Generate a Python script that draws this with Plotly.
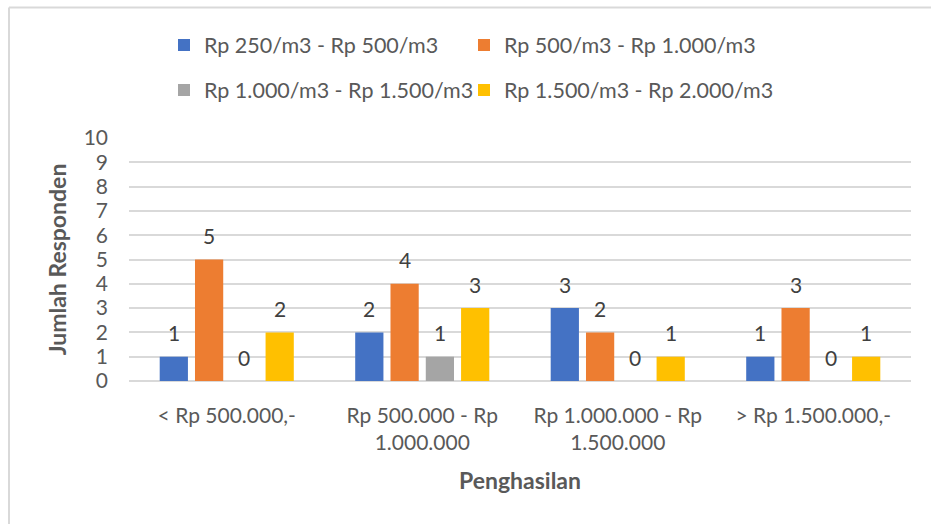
import plotly.graph_objects as go

# Income brackets (x categories)
categories = ["< Rp 500.000,-", "Rp 500.000 - Rp<br>1.000.000",
              "Rp 1.000.000 - Rp<br>1.500.000", "> Rp 1.500.000,-"]

# Respondent counts per water price range
series_names = ["Rp 250/m3 - Rp 500/m3", "Rp 500/m3 - Rp 1.000/m3",
                "Rp 1.000/m3 - Rp 1.500/m3", "Rp 1.500/m3 - Rp 2.000/m3"]
price_250_500 = [1, 2, 3, 1]
price_500_1000 = [5, 4, 2, 3]
price_1000_1500 = [0, 1, 0, 0]
price_1500_2000 = [2, 3, 1, 1]
series_values = [price_250_500, price_500_1000, price_1000_1500, price_1500_2000]

y_ticks = list(range(0, 11))

colors = ["#4472C4", "#ED7D31", "#A5A5A5", "#FFC000"]
text_color = "#595959"
grid_color = "#D9D9D9"
font_family = "Lato, 'Open Sans', sans-serif"

W, H = 931, 524
margin = dict(l=129, r=20, t=138, b=143)
plot_w = W - margin["l"] - margin["r"]
plot_h = H - margin["t"] - margin["b"]
bargap, bargroupgap = 0.278, 0.2

# Legend laid out as a 2x2 grid: one legend box per entry
legend_ids = ["legend", "legend2", "legend3", "legend4"]
legend_pos = [(164, 45), (464, 45), (164, 90), (464, 90)]

fig = go.Figure()
for i, (name, vals) in enumerate(zip(series_names, series_values)):
    fig.add_trace(go.Bar(
        x=categories, y=vals, name=name,
        marker=dict(color=colors[i], line=dict(width=0)),
        legend=legend_ids[i],
    ))

# Value labels above each bar, shifted to the bar's slot inside its group
cat_px = plot_w / len(categories)
slot_px = cat_px * (1 - bargap) / len(series_values)
for i, vals in enumerate(series_values):
    for cat, v in zip(categories, vals):
        fig.add_annotation(
            x=cat, y=v, text=str(v), showarrow=False,
            xshift=(i - (len(series_values) - 1) / 2) * slot_px,
            yshift=24, font=dict(size=21, color="#404040", family=font_family),
        )

# Light frame lines along the left and top edges of the chart
def px_to_paper_x(px):
    return (px - margin["l"]) / plot_w

def px_to_paper_y(py):
    return (H - margin["b"] - py) / plot_h

fig.add_shape(type="line", xref="paper", yref="paper",
              x0=px_to_paper_x(9), x1=px_to_paper_x(9),
              y0=px_to_paper_y(7.5), y1=px_to_paper_y(H + 5),
              line=dict(color=grid_color, width=2))
fig.add_shape(type="line", xref="paper", yref="paper",
              x0=px_to_paper_x(9), x1=px_to_paper_x(W + 5),
              y0=px_to_paper_y(7.5), y1=px_to_paper_y(7.5),
              line=dict(color=grid_color, width=2))

legend_common = dict(
    orientation="h", xanchor="left", yanchor="middle",
    font=dict(size=21.5, color=text_color, family=font_family),
    itemclick=False, bgcolor="rgba(0,0,0,0)",
    xref="container", yref="container",
)
legend_layout = {
    lid: dict(**legend_common, x=px / W, y=1 - py / H)
    for lid, (px, py) in zip(legend_ids, legend_pos)
}

fig.update_layout(
    width=W, height=H, margin=margin,
    paper_bgcolor="white", plot_bgcolor="white",
    barmode="group", bargap=bargap, bargroupgap=bargroupgap,
    font=dict(family=font_family, color=text_color, size=21),
    showlegend=True,
    **legend_layout,
    xaxis=dict(
        showgrid=False, showline=False, zeroline=False,
        tickfont=dict(size=21, color=text_color),
        ticks="", ticklabelstandoff=20,
        title=dict(text="<b>Penghasilan</b>", standoff=19,
                   font=dict(size=23, color=text_color)),
        automargin=False,
    ),
    yaxis=dict(
        range=[0, 10], tickvals=y_ticks, ticktext=[str(t) for t in y_ticks],
        showgrid=True, gridcolor=grid_color, gridwidth=1.5,
        zeroline=True, zerolinecolor=grid_color, zerolinewidth=1.5,
        showline=False, ticks="", ticklabelstandoff=20,
        tickfont=dict(size=21, color=text_color),
        title=dict(text="<b>Jumlah Responden</b>", standoff=10,
                   font=dict(size=23, color=text_color)),
        automargin=False,
    ),
)

fig.write_html("out.html")
